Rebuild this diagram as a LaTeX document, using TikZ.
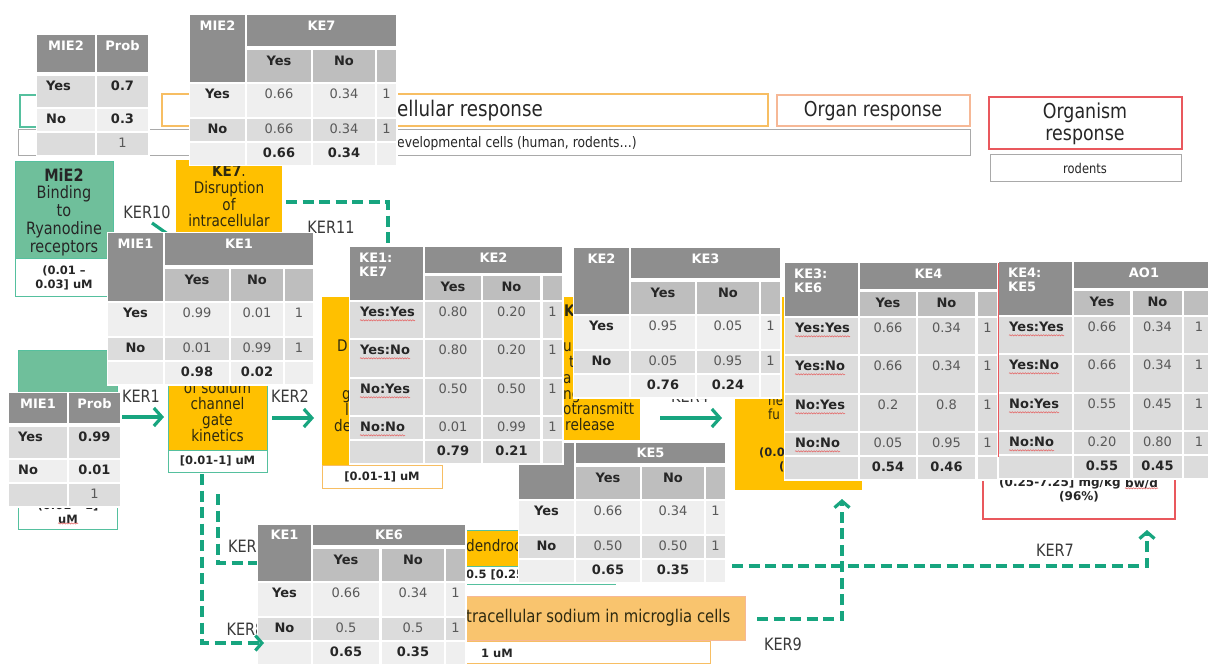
\documentclass[tikz,border=0pt]{standalone}
\usepackage{fontspec}
\setmainfont{DejaVu Sans}
\newfontfamily\condf[FakeStretch=0.85]{DejaVu Sans}
\usetikzlibrary{arrows.meta,decorations.pathmorphing}

\definecolor{hdr}{HTML}{8E8E8E}
\definecolor{subh}{HTML}{BEBEBE}
\definecolor{rowA}{HTML}{EFEFEF}
\definecolor{rowB}{HTML}{DCDCDC}
\definecolor{valc}{HTML}{595959}
\definecolor{labc}{HTML}{262626}
\definecolor{ora}{HTML}{FFC000}
\definecolor{oralt}{HTML}{F9C46E}
\definecolor{orab}{HTML}{F7BE63}
\definecolor{salm}{HTML}{F6B896}
\definecolor{redb}{HTML}{E9585D}
\definecolor{tealc}{HTML}{17A57F}
\definecolor{tealb}{HTML}{55C09E}
\definecolor{mint}{HTML}{6FBF9B}
\definecolor{greyb}{HTML}{A9A9A9}
\definecolor{ketxt}{HTML}{2E2A10}
\definecolor{kertxt}{HTML}{3A3A3A}
\definecolor{squigc}{HTML}{E46C6C}

\tikzset{
  tf/.style={inner sep=0pt, text height=9.5pt, text depth=2.7pt, font=\fontsize{13}{15}\selectfont},
  hd/.style={tf, text=white, font=\fontsize{13}{15}\selectfont\bfseries},
  lb/.style={tf, text=labc, font=\fontsize{13}{15}\selectfont\bfseries},
  vl/.style={tf, text=valc},
  squig/.style={draw=squigc, line width=0.6pt, decorate, decoration={snake, amplitude=0.6pt, segment length=2.6pt}},
  ketx/.style={inner sep=0pt, font=\condf\fontsize{16}{16.8}\selectfont, text=ketxt},
  kef/.style={ketx, anchor=west, text height=11.5pt, text depth=3pt},
  valbox/.style={inner sep=0pt, font=\fontsize{11.5}{13.5}\selectfont\bfseries, text=labc},
  kerl/.style={inner sep=0pt, font=\condf\fontsize{17}{18}\selectfont, text=kertxt},
  hdtxt/.style={inner sep=0pt, font=\condf\fontsize{21.5}{24}\selectfont, text=black!85},
  hdtxtb/.style={inner sep=0pt, font=\condf\fontsize{20.5}{22}\selectfont, text=black!85},
  sptxt/.style={inner sep=0pt, font=\condf\fontsize{14.5}{16}\selectfont, text=black!85},
  conn/.style={draw=tealc, line width=3.2pt},
  dconn/.style={conn, dash pattern=on 11pt off 5.5pt},
  bigtip/.style={-{Straight Barb[length=8pt,width=18pt]}},
  smalltip/.style={-{Straight Barb[length=6.5pt,width=15pt]}}
}

% column layout of the one-parent tables
\def\cA{55}\def\cB{57}\def\cC{121}\def\cD{123}\def\cE{185}\def\cF{187}\def\cG{206}
% column layout of the two-parent tables
\def\dA{73}\def\dB{75}\def\dC{131}\def\dD{133}\def\dE{190}\def\dF{193}\def\dG{212}

% prior table: name, x, y, header height, label, p(yes), p(no)
\newcommand\probT[7]{%
  \def\tx{#2}\def\ty{#3}\def\tH{#4}%
  \fill[white] (\tx-1.5,\ty-1.5) rectangle (\tx+112.5,\ty+\tH+84.5);
  \fill[hdr] (\tx,\ty) rectangle (\tx+58,\ty+\tH);
  \fill[hdr] (\tx+60,\ty) rectangle (\tx+111,\ty+\tH);
  \fill[rowB] (\tx,\ty+\tH+4) rectangle (\tx+58,\ty+\tH+35);
  \fill[rowB] (\tx+60,\ty+\tH+4) rectangle (\tx+111,\ty+\tH+35);
  \fill[rowA] (\tx,\ty+\tH+37) rectangle (\tx+58,\ty+\tH+59);
  \fill[rowA] (\tx+60,\ty+\tH+37) rectangle (\tx+111,\ty+\tH+59);
  \fill[rowB] (\tx,\ty+\tH+61) rectangle (\tx+58,\ty+\tH+83);
  \fill[rowB] (\tx+60,\ty+\tH+61) rectangle (\tx+111,\ty+\tH+83);
  \node[hd] (#1-c) at (\tx+29,\ty+12) {#5};
  \node[hd] (#1-h) at (\tx+85.5,\ty+12) {Prob};
  \node[lb,anchor=west] (#1-r1) at (\tx+9,\ty+\tH+15.5) {Yes};
  \node[lb] (#1-r1-v) at (\tx+85.5,\ty+\tH+15.5) {#6};
  \node[lb,anchor=west] (#1-r2) at (\tx+9,\ty+\tH+48) {No};
  \node[lb] (#1-r2-v) at (\tx+85.5,\ty+\tH+48) {#7};
  \node[vl] (#1-t) at (\tx+85.5,\ty+\tH+72) {1};
}

% one-parent table: name, x, y, header height, corner, head, rows, total yes, total no
\newcommand\cptB[9]{%
  \def\tx{#2}\def\ty{#3}\def\tH{#4}%
  \fill[white] (\tx-1.5,\ty-1.5) rectangle (\tx+\cG+1.5,\ty+\tH+120.5);
  \fill[hdr] (\tx,\ty) rectangle (\tx+\cA,\ty+\tH+36);
  \fill[hdr] (\tx+\cB,\ty) rectangle (\tx+\cG,\ty+\tH);
  \fill[subh] (\tx+\cB,\ty+\tH+4) rectangle (\tx+\cC,\ty+\tH+36);
  \fill[subh] (\tx+\cD,\ty+\tH+4) rectangle (\tx+\cE,\ty+\tH+36);
  \fill[subh] (\tx+\cF,\ty+\tH+4) rectangle (\tx+\cG,\ty+\tH+36);
  \node[hd] (#1-c) at ({\tx+\cA/2},{\ty+min(12,\tH/2+1.5)}) {#5};
  \node[hd] (#1-h) at ({\tx+(\cB+\cG)/2},{\ty+min(12,\tH/2+1.5)}) {#6};
  \node[lb] (#1-sy) at ({\tx+(\cB+\cC)/2},{\ty+\tH+16}) {Yes};
  \node[lb] (#1-sn) at ({\tx+(\cD+\cE)/2},{\ty+\tH+16}) {No};
  \foreach \lab/\va/\vb [count=\i] in {#7} {
    \ifnum\i=1 \def\rt{38}\def\rb{71}\def\rc{rowA}\else\def\rt{73}\def\rb{95}\def\rc{rowB}\fi
    \fill[fill=\rc] (\tx,\ty+\tH+\rt) rectangle (\tx+\cA,\ty+\tH+\rb);
    \fill[fill=\rc] (\tx+\cB,\ty+\tH+\rt) rectangle (\tx+\cC,\ty+\tH+\rb);
    \fill[fill=\rc] (\tx+\cD,\ty+\tH+\rt) rectangle (\tx+\cE,\ty+\tH+\rb);
    \fill[fill=\rc] (\tx+\cF,\ty+\tH+\rt) rectangle (\tx+\cG,\ty+\tH+\rb);
    \node[lb] (#1-r\i) at ({\tx+\cA/2},{\ty+\tH+\rt+11.5}) {\lab};
    \node[vl] (#1-r\i-y) at ({\tx+(\cB+\cC)/2},{\ty+\tH+\rt+11.5}) {\va};
    \node[vl] (#1-r\i-n) at ({\tx+(\cD+\cE)/2},{\ty+\tH+\rt+11.5}) {\vb};
    \node[vl] (#1-r\i-t) at ({\tx+(\cF+\cG)/2},{\ty+\tH+\rt+11.5}) {1};
  }
  \fill[rowA] (\tx,\ty+\tH+97) rectangle (\tx+\cA,\ty+\tH+119);
  \fill[rowA] (\tx+\cB,\ty+\tH+97) rectangle (\tx+\cC,\ty+\tH+119);
  \fill[rowA] (\tx+\cD,\ty+\tH+97) rectangle (\tx+\cE,\ty+\tH+119);
  \fill[rowA] (\tx+\cF,\ty+\tH+97) rectangle (\tx+\cG,\ty+\tH+119);
  \node[lb] (#1-ty) at ({\tx+(\cB+\cC)/2},{\ty+\tH+108.5}) {#8};
  \node[lb] (#1-tn) at ({\tx+(\cD+\cE)/2},{\ty+\tH+108.5}) {#9};
}

% two-parent table: name, x, y, corner line 1, corner line 2, head, rows, total yes, total no
\newcommand\cptC[9]{%
  \def\tx{#2}\def\ty{#3}%
  \fill[white] (\tx-1.5,\ty-1.5) rectangle (\tx+\dG+1.5,\ty+217.5);
  \fill[hdr] (\tx,\ty) rectangle (\tx+\dA,\ty+53);
  \fill[hdr] (\tx+\dB,\ty) rectangle (\tx+\dG,\ty+26);
  \fill[subh] (\tx+\dB,\ty+29) rectangle (\tx+\dC,\ty+53);
  \fill[subh] (\tx+\dD,\ty+29) rectangle (\tx+\dE,\ty+53);
  \fill[subh] (\tx+\dF,\ty+29) rectangle (\tx+\dG,\ty+53);
  \node[hd,anchor=west] (#1-c) at (\tx+9,\ty+12) {#4};
  \node[hd,anchor=west] (#1-c2) at (\tx+9,\ty+26) {#5};
  \node[hd] (#1-h) at ({\tx+(\dB+\dG)/2},\ty+12) {#6};
  \node[lb] (#1-sy) at ({\tx+(\dB+\dC)/2},\ty+41) {Yes};
  \node[lb] (#1-sn) at ({\tx+(\dD+\dE)/2},\ty+41) {No};
  \foreach \lab/\va/\vb [count=\i] in {#7} {
    \ifcase\i\or\def\rt{55}\def\rb{91}\or\def\rt{93}\def\rb{130}\or\def\rt{132}\def\rb{168}\or\def\rt{170}\def\rb{192}\fi
    \fill[rowB] (\tx,\ty+\rt) rectangle (\tx+\dA,\ty+\rb);
    \fill[rowB] (\tx+\dB,\ty+\rt) rectangle (\tx+\dC,\ty+\rb);
    \fill[rowB] (\tx+\dD,\ty+\rt) rectangle (\tx+\dE,\ty+\rb);
    \fill[rowB] (\tx+\dF,\ty+\rt) rectangle (\tx+\dG,\ty+\rb);
    \node[lb,anchor=west] (#1-r\i) at (\tx+10,{\ty+\rt+11.5}) {\lab};
    \draw[squig] ([yshift=-0.5pt]#1-r\i.south west) -- ([yshift=-0.5pt]#1-r\i.south east);
    \node[vl] (#1-r\i-y) at ({\tx+(\dB+\dC)/2},{\ty+\rt+11.5}) {\va};
    \node[vl] (#1-r\i-n) at ({\tx+(\dD+\dE)/2},{\ty+\rt+11.5}) {\vb};
    \node[vl] (#1-r\i-t) at ({\tx+(\dF+\dG)/2},{\ty+\rt+11.5}) {1};
  }
  \fill[rowB] (\tx,\ty+194) rectangle (\tx+\dA,\ty+216);
  \fill[rowB] (\tx+\dB,\ty+194) rectangle (\tx+\dC,\ty+216);
  \fill[rowB] (\tx+\dD,\ty+194) rectangle (\tx+\dE,\ty+216);
  \fill[rowB] (\tx+\dF,\ty+194) rectangle (\tx+\dG,\ty+216);
  \node[lb] (#1-ty) at ({\tx+(\dB+\dC)/2},\ty+205) {#8};
  \node[lb] (#1-tn) at ({\tx+(\dD+\dE)/2},\ty+205) {#9};
}

\begin{document}
\begin{tikzpicture}[x=1pt,y=-1pt]
\useasboundingbox (0,0) rectangle (1208,666);
\fill[white] (0,0) rectangle (1208,666);
\clip (0,0) rectangle (1208,666);

% ---- level-of-organisation headers
\draw[tealb, line width=1.2pt] (20,95) rectangle (140,127);
\draw[orab, line width=1.2pt, fill=white] (162,94) rectangle (768,126);
\node[hdtxt, anchor=west] (cellresp) at (397,111) {ellular response};
\draw[salm, line width=1.2pt] (777,95) rectangle (970,126);
\node[hdtxtb] (organresp) at (873,111) {Organ response};
\draw[redb, line width=1.5pt] (989,97) rectangle (1182,149);
\node[hdtxtb, align=center] (orgresp) at (1085,124) {Organism\\response};
\draw[greyb, line width=1pt] (18,130) rectangle (970,156);
\node[sptxt, anchor=west] (cells) at (397,144) {evelopmental cells (human, rodents…)};
\draw[greyb, line width=1pt] (990,155) rectangle (1181,182);
\node[sptxt, font=\condf\fontsize{13.5}{15}\selectfont] (rodents) at (1085,168) {rodents};

% ---- molecular initiating events
\draw[tealb, line width=1pt, fill=mint] (15,162) rectangle (113,258);
\draw[tealb, line width=1pt, fill=white] (15,258) rectangle (113,296);
\node[ketx, text=black!85, font=\condf\fontsize{17}{17.8}\selectfont, align=center] (mie2txt) at (64,212) {\textbf{MiE2}\\Binding\\to\\Ryanodine\\receptors};
\node[valbox, align=center] (mie2val) at (64,278) {(0.01 –\\0.03] uM};

\draw[tealb, line width=1pt, fill=mint] (18,350) rectangle (117,490);
\draw[tealb, line width=1pt, fill=white] (18,490) rectangle (117,529);
\node[valbox] (mie1v1) at (68,506) {(0.01 – 1]};
\node[valbox] (mie1v2) at (68,519) {uM};
\draw[squig] (mie1v2.south west) -- (mie1v2.south east);

% ---- key events
\fill[ora] (176,160) rectangle (282,300);
\node[ketx, align=center] (ke7txt) at (229,196) {\textbf{KE7}.\\Disruption\\of\\intracellular};

\draw[tealb, line width=1pt, fill=ora] (168,300) rectangle (267,450);
\draw[tealb, line width=1pt, fill=white] (168,450) rectangle (267,472);
\node[ketx, font=\condf\fontsize{16}{16}\selectfont, align=center] (ke1txt) at (217.5,412) {of sodium\\channel\\gate\\kinetics};
\node[valbox] (ke1val) at (217.5,461) {[0.01-1] uM};

\fill[ora] (322,297) rectangle (442,465);
\draw[orab, line width=1pt, fill=white] (322,465) rectangle (442,488);
\node[valbox] (ke2val) at (382,477) {[0.01-1] uM};
\node[kef] (ke2f1) at (337,347) {D};
\node[kef] (ke2f2) at (342,395) {g};
\node[kef] (ke2f3) at (345,411) {l};
\node[kef] (ke2f4) at (334,427) {de};

\fill[ora] (563,297) rectangle (640,440);
\node[kef, font=\condf\fontsize{16}{16.8}\selectfont\bfseries] (ke3f1) at (564,312) {K};
\node[kef] (ke3f2) at (563,347) {up};
\node[kef] (ke3f3) at (569,363) {t};
\node[kef] (ke3f4) at (563,379) {a};
\node[kef] (ke3f5) at (563,395) {ng};
\node[kef] (ke3f6) at (563,410) {otransmitt};
\node[kef] (ke3f7) at (565,426) {release};

\fill[ora] (735,297) rectangle (862,490);
\node[kef, font=\condf\fontsize{14}{15}\selectfont] (ke4f1) at (768,401) {ne};
\node[kef, font=\condf\fontsize{14}{15}\selectfont] (ke4f2) at (768,415) {fu};
\node[valbox, anchor=west] (ke4v1) at (759,453) {(0.0};
\node[valbox, anchor=west] (ke4v2) at (779,467) {(};

\draw[redb, line width=1.2pt, fill=white] (983,300) rectangle (1175,519);
\node[valbox, font=\fontsize{12}{14}\selectfont\bfseries, anchor=west] (aov1) at (999,483) {(0.25-7.25] mg/kg};
\node[valbox, font=\fontsize{12}{14}\selectfont\bfseries, anchor=west] (aov1b) at ([xshift=4.2pt]aov1.east) {bw/d};
\draw[squig] (aov1b.south west) -- (aov1b.south east);
\node[valbox, font=\fontsize{12}{14}\selectfont\bfseries] (aov2) at (1079,497) {(96\%)};

\draw[tealb, line width=1pt, fill=ora] (400,530) rectangle (615,566);
\draw[tealb, line width=1pt, fill=white] (400,566) rectangle (615,584);
\node[kef] (dendtxt) at (466,547) {dendroc};
\node[valbox, anchor=west] (dendval) at (466,575) {0.5 [0.25};

\draw[salm, line width=1pt, fill=oralt] (420,596) rectangle (745,640);
\node[ketx, font=\condf\fontsize{17.5}{18}\selectfont, anchor=west] (microtxt) at (466,618) {tracellular sodium in microglia cells};
\draw[orab, line width=1pt, fill=white] (420,641) rectangle (710,663);
\node[valbox] (microval) at (497,653) {1 uM};

% ---- key event relationships
\coordinate (k10s) at (152,223); \coordinate (k10e) at (186,247);
\draw[conn] (k10s) -- (k10e);
\node[kerl] (ker10) at (147,212) {KER10};

\coordinate (k11s) at (286,202); \coordinate (k11m) at (388,202); \coordinate (k11e) at (388,252);
\draw[dconn] (k11s) -- (k11m) -- (k11e);
\node[kerl] (ker11) at (331,227) {KER11};

\coordinate (k1s) at (122,417); \coordinate (k1e) at (164,417);
\draw[conn, bigtip] (k1s) -- (k1e);
\node[kerl] (ker1) at (141,396) {KER1};

\coordinate (k2s) at (272,418); \coordinate (k2e) at (314,418);
\draw[conn, bigtip] (k2s) -- (k2e);
\node[kerl] (ker2) at (290,396) {KER2};

\coordinate (k4s) at (660,418); \coordinate (k4e) at (722,418);
\draw[conn, bigtip] (k4s) -- (k4e);
\node[kerl] (ker4) at (690,396) {KER4};

\coordinate (k6s) at (218,494); \coordinate (k6m) at (218,563); \coordinate (k6e) at (300,563);
\draw[dconn] (k6s) -- (k6m) -- (k6e);
\node[kerl] (ker6) at (247,546) {KER6};

\node[kerl] (ker8) at (245.5,629) {KER8};

\coordinate (k7s) at (600,566); \coordinate (k7m) at (1147,566); \coordinate (k7e) at (1147,530);
\draw[dconn, smalltip] (k7s) -- (k7m) -- (k7e);
\node[kerl] (ker7) at (1055,550) {KER7};

\coordinate (k9s) at (757,619); \coordinate (k9m) at (842,619); \coordinate (k9e) at (842,499);
\draw[dconn, smalltip] (k9s) -- (k9m) -- (k9e);
\node[kerl] (ker9) at (783,644) {KER9};

% ---- conditional probability tables
\probT{pmie2}{37}{35}{37}{MIE2}{0.7}{0.3}
\cptB{tke7}{190}{15}{31}{MIE2}{KE7}{Yes/0.66/0.34, No/0.66/0.34}{0.66}{0.34}
\begingroup
\def\cE{175}\def\cF{177}\def\cG{205}
\cptB{tke1}{108}{233}{32}{MIE1}{KE1}{Yes/0.99/0.01, No/0.01/0.99}{0.98}{0.02}
\endgroup
\probT{pmie1}{9}{393}{30}{MIE1}{0.99}{0.01}
\cptB{tke5}{519}{443}{20}{}{KE5}{Yes/0.66/0.34, No/0.50/0.50}{0.65}{0.35}
\cptC{tke2}{350}{247}{KE1:}{KE7}{KE2}{Yes:Yes/0.80/0.20, Yes:No/0.80/0.20, No:Yes/0.50/0.50, No:No/0.01/0.99}{0.79}{0.21}
\cptB{tke3}{574}{248}{30}{KE2}{KE3}{Yes/0.95/0.05, No/0.05/0.95}{0.76}{0.24}
\cptC{tke4}{785}{263}{KE3:}{KE6}{KE4}{Yes:Yes/0.66/0.34, Yes:No/0.66/0.34, No:Yes/0.2/0.8, No:No/0.05/0.95}{0.54}{0.46}
\begingroup
\def\dD{134}\def\dE{183}\def\dF{185}\def\dG{215}
\cptC{tao1}{999}{262}{KE4:}{KE5}{AO1}{Yes:Yes/0.66/0.34, Yes:No/0.66/0.34, No:Yes/0.55/0.45, No:No/0.20/0.80}{0.55}{0.45}
\endgroup
\draw[redb, line width=0.8pt] (998.3,263) -- (998.3,457);
\begingroup
\def\cB{55}\def\cC{121}\def\cD{124}\def\cE{186}\def\cF{188}\def\cG{207}\def\cA{53}
\cptB{tke6}{258}{525}{20}{KE1}{KE6}{Yes/0.66/0.34, No/0.5/0.5}{0.65}{0.35}
\endgroup

% ---- relationship drawn over the KE6 table
\coordinate (k8s) at (202,474); \coordinate (k8m) at (202,643); \coordinate (k8e) at (264,643);
\draw[dconn, smalltip] (k8s) -- (k8m) -- (k8e);
\end{tikzpicture}
\end{document}
